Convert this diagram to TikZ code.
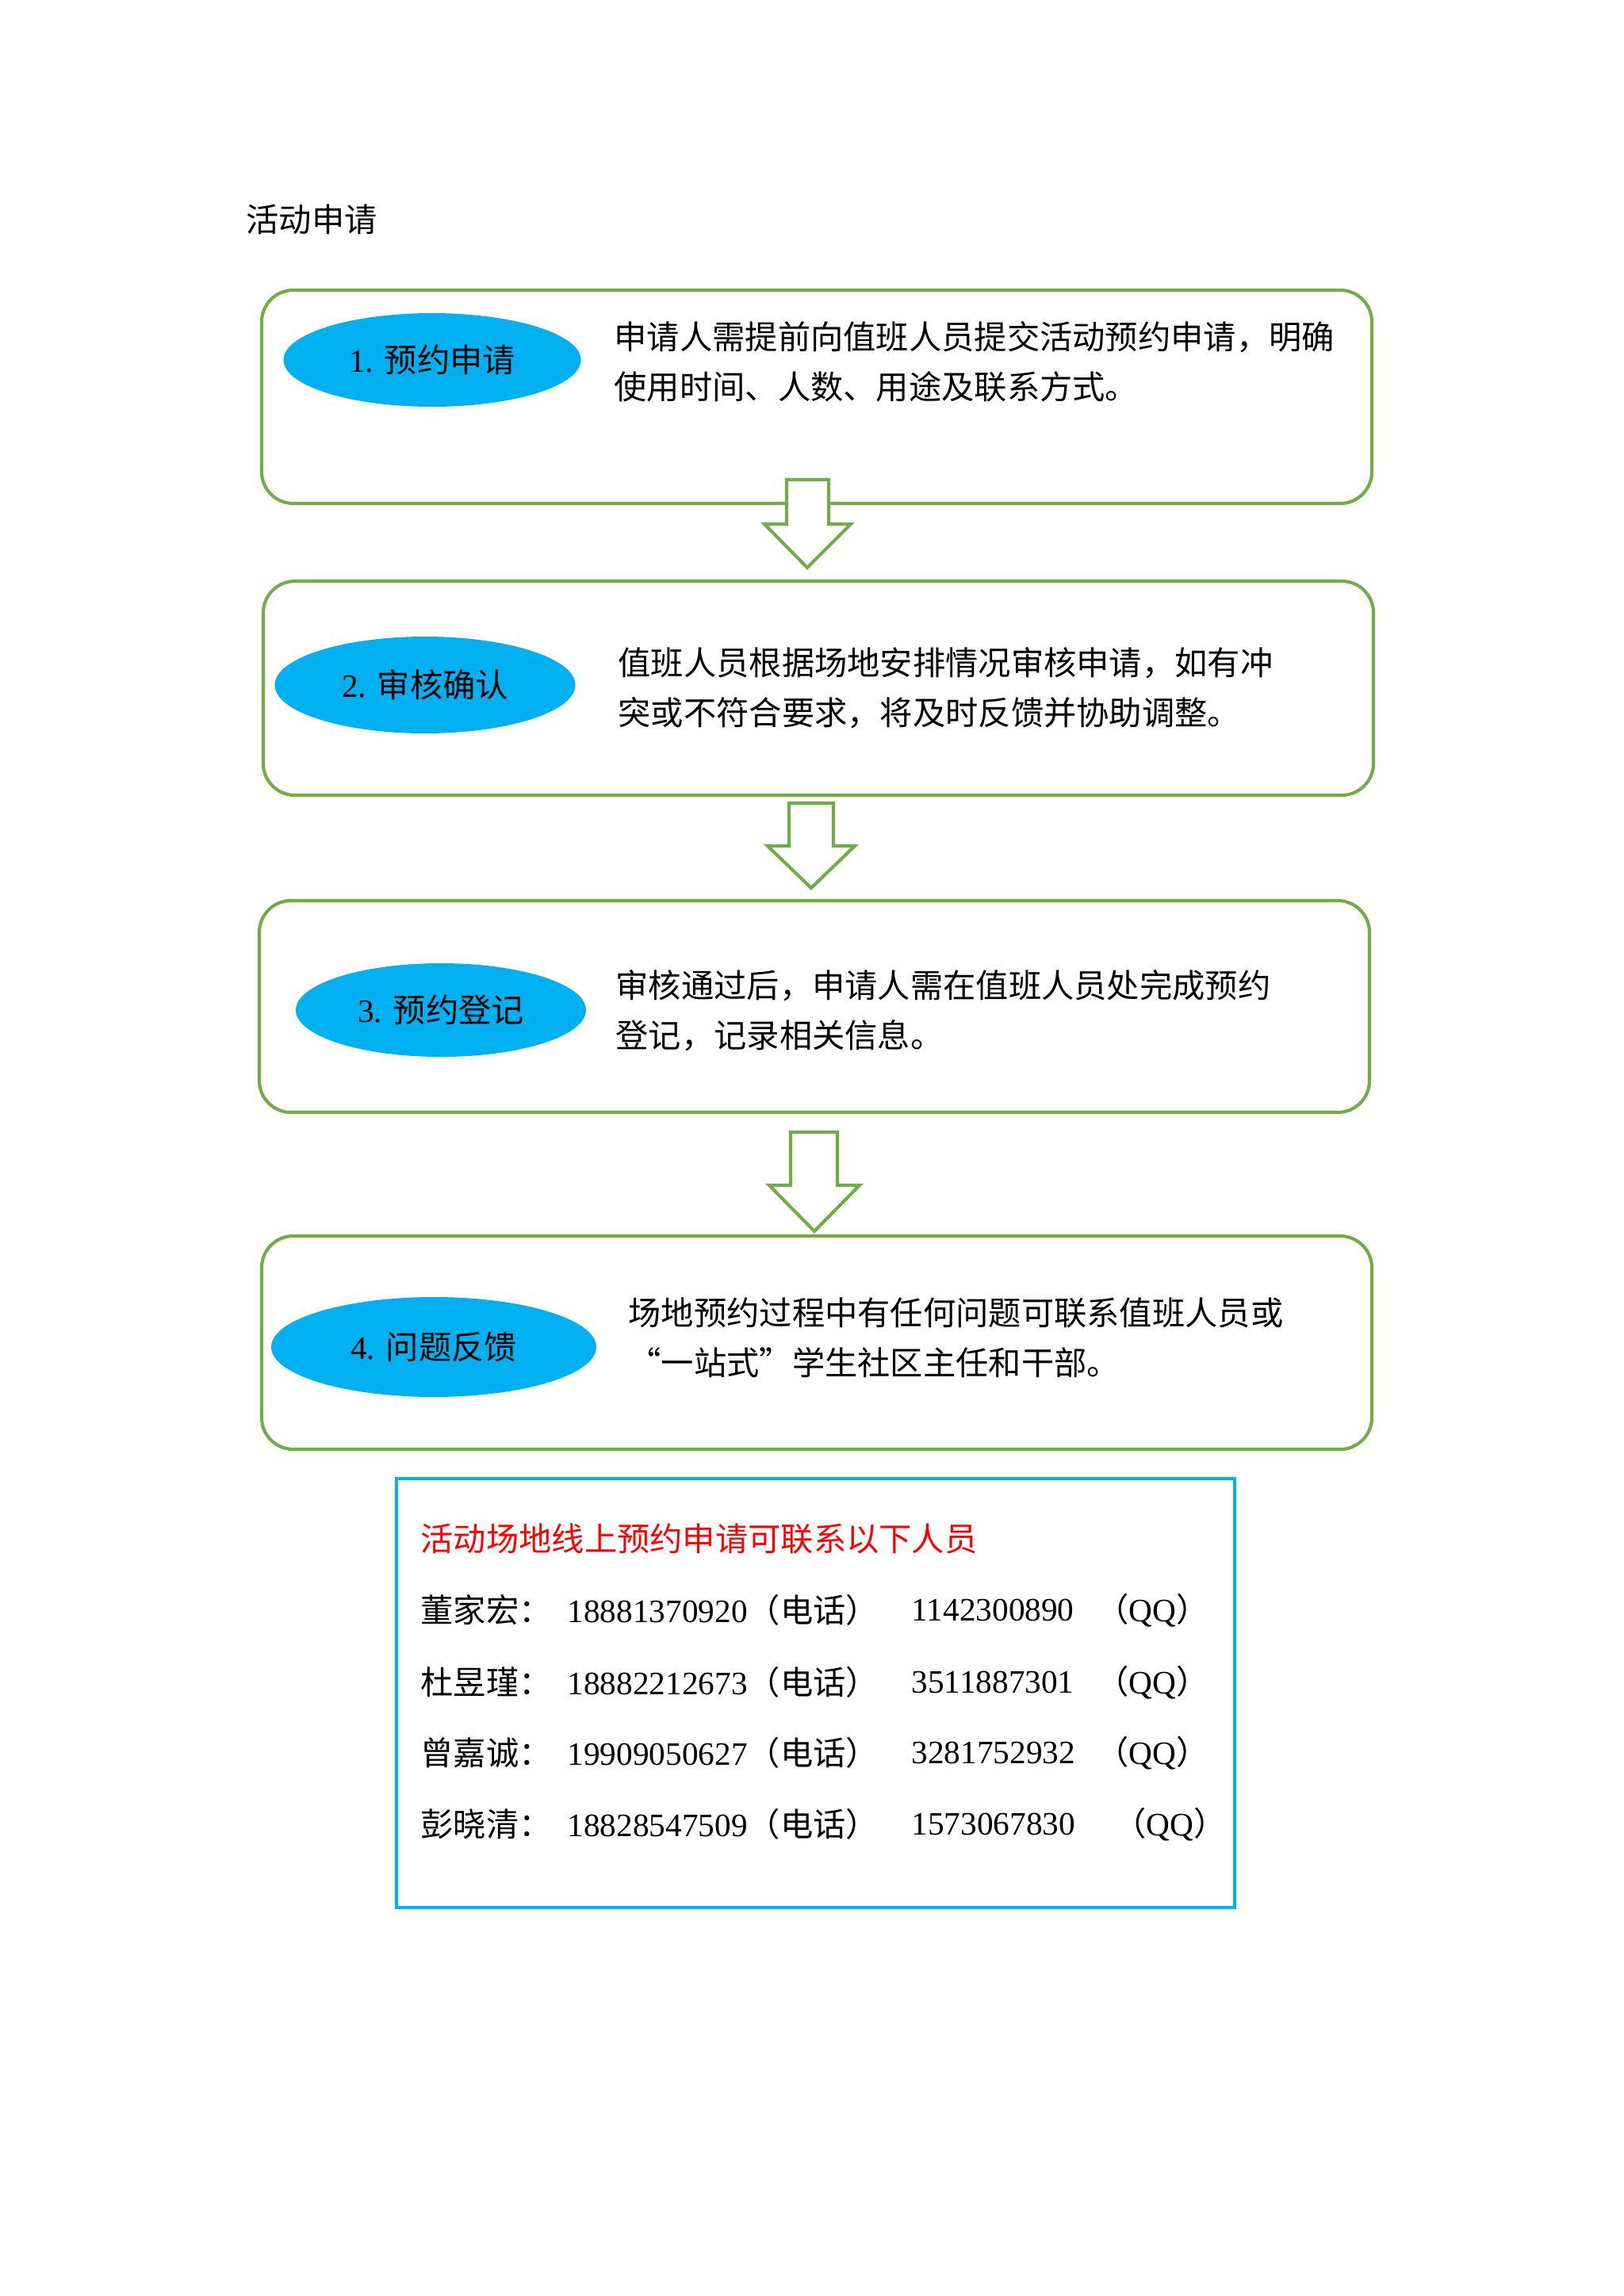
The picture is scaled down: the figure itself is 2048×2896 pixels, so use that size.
\documentclass[tikz,border=0pt]{standalone}
\usepackage{fontspec}
\setmainfont{Liberation Serif}
\newfontfamily\cjk{Noto Sans CJK SC}
\usetikzlibrary{shapes.geometric}
\definecolor{boxgreen}{HTML}{70AD47}
\definecolor{ovalblue}{HTML}{00B0F0}
\definecolor{contactblue}{HTML}{00B0F0}
\definecolor{redtext}{HTML}{FF0000}
\def\px{0.2907pt}
\tikzset{
  stepbox/.style={draw=boxgreen, line width=1.2pt, rounded corners=11.6pt, fill=white, inner sep=0pt, minimum width={1400*\px}},
  oval/.style={ellipse, fill=ovalblue, draw=none, inner sep=0pt, font=\fontsize{12}{14}\selectfont},
  desc/.style={anchor=west, align=left, inner sep=0pt, font=\cjk\fontsize{12}{18.3}\selectfont},
  blockarrow/.style={draw=boxgreen, line width=1.2pt, fill=white, line join=miter},
  contactbox/.style={draw=contactblue, line width=1.3pt, inner sep=0pt, minimum width={1057*\px}, minimum height={541*\px}},
  ctext/.style={anchor=west, inner sep=0pt, font=\fontsize{12}{14}\selectfont},
}
\begin{document}
\begin{tikzpicture}[x=0.2907pt,y=-0.2907pt]
\useasboundingbox (0,0) rectangle (2048,2896);
\fill[white] (0,0) rectangle (2048,2896);

\node[anchor=west, inner sep=0pt, font=\cjk\fontsize{12}{14}\selectfont] (title) at (310,277) {活动申请};

% step boxes
\node[stepbox, minimum height={269*\px}] (box1) at (1030,500.5) {};
\node[stepbox, minimum height={270*\px}] (box2) at (1032,868) {};
\node[stepbox, minimum height={267*\px}] (box3) at (1027,1269.5) {};
\node[stepbox, minimum height={269*\px}] (box4) at (1030,1693.5) {};

% ovals
\node[oval, minimum width={375*\px}, minimum height={118*\px}] (o1) at (545,454) {1. {\cjk 预约申请}};
\node[oval, minimum width={379*\px}, minimum height={122*\px}] (o2) at (536,864) {2. {\cjk 审核确认}};
\node[oval, minimum width={366*\px}, minimum height={118*\px}] (o3) at (556,1274) {3. {\cjk 预约登记}};
\node[oval, minimum width={410*\px}, minimum height={126*\px}] (o4) at (547,1699) {4. {\cjk 问题反馈}};

% descriptions
\node[desc] (d1) at (774,456.5) {申请人需提前向值班人员提交活动预约申请，明确\\使用时间、人数、用途及联系方式。};
\node[desc] (d2) at (779,868) {值班人员根据场地安排情况审核申请，如有冲\\突或不符合要求，将及时反馈并协助调整。};
\node[desc] (d3) at (776,1274.5) {审核通过后，申请人需在值班人员处完成预约\\登记，记录相关信息。};
\node[desc] (d4) at (792,1687.5) {场地预约过程中有任何问题可联系值班人员或\\“一站式”学生社区主任和干部。};

% block arrows
\draw[blockarrow] (992,605) -- (1045,605) -- (1045,661) -- (1073,661) -- (1018,716) -- (964,661) -- (992,661) -- cycle;
\draw[blockarrow] (995,1013) -- (1051,1013) -- (1051,1067) -- (1078,1067) -- (1023,1120) -- (968,1067) -- (995,1067) -- cycle;
\draw[blockarrow] (997,1428) -- (1056,1428) -- (1056,1495) -- (1084,1495) -- (1027,1553) -- (970,1495) -- (997,1495) -- cycle;

% contact box
\node[contactbox] (cbox) at (1028.5,2135.5) {};
\node[ctext, text=redtext, font=\cjk\fontsize{12}{14}\selectfont] (chead) at (530,1941) {活动场地线上预约申请可联系以下人员};

\node[ctext, font=\cjk\fontsize{12}{14}\selectfont] (n1) at (530,2031) {董家宏：};
\node[ctext] (p1) at (715,2031) {18881370920{\cjk（电话）}};
\node[ctext] (q1) at (1149,2031) {1142300890};
\node[ctext] (qq1) at (1382,2031) {{\cjk（}QQ{\cjk）}};

\node[ctext, font=\cjk\fontsize{12}{14}\selectfont] (n2) at (530,2122) {杜昱瑾：};
\node[ctext] (p2) at (715,2122) {18882212673{\cjk（电话）}};
\node[ctext] (q2) at (1149,2122) {3511887301};
\node[ctext] (qq2) at (1382,2122) {{\cjk（}QQ{\cjk）}};

\node[ctext, font=\cjk\fontsize{12}{14}\selectfont] (n3) at (530,2211) {曾嘉诚：};
\node[ctext] (p3) at (715,2211) {19909050627{\cjk（电话）}};
\node[ctext] (q3) at (1149,2211) {3281752932};
\node[ctext] (qq3) at (1382,2211) {{\cjk（}QQ{\cjk）}};

\node[ctext, font=\cjk\fontsize{12}{14}\selectfont] (n4) at (530,2301) {彭晓清：};
\node[ctext] (p4) at (715,2301) {18828547509{\cjk（电话）}};
\node[ctext] (q4) at (1149,2301) {1573067830};
\node[ctext] (qq4) at (1404,2301) {{\cjk（}QQ{\cjk）}};
\end{tikzpicture}
\end{document}
